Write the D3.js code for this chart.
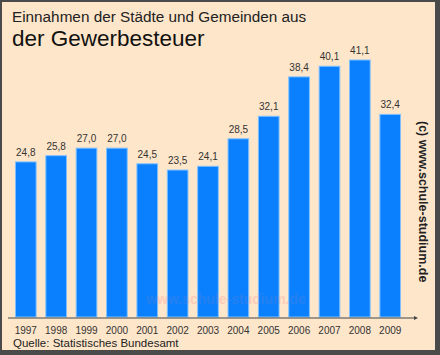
<!DOCTYPE html>
<html><head><meta charset="utf-8">
<script src="https://cdn.jsdelivr.net/npm/d3@7"></script>
<style>html,body{margin:0;padding:0;background:#fff}svg{display:block}</style>
</head><body>
<script>
const years = ["1997","1998","1999","2000","2001","2002","2003","2004","2005","2006","2007","2008","2009"];
const values = [24.8,25.8,27.0,27.0,24.5,23.5,24.1,28.5,32.1,38.4,40.1,41.1,32.4];
const valueLabels = ["24,8","25,8","27,0","27,0","24,5","23,5","24,1","28,5","32,1","38,4","40,1","41,1","32,4"];
const titleLine1 = "Einnahmen der Städte und Gemeinden aus";
const titleLine2 = "der Gewerbesteuer";
const sourceText = "Quelle: Statistisches Bundesamt";
const copyrightText = "(c) www.schule-studium.de";

const W = 440, H = 355;
const svg = d3.select("body").append("svg").attr("width", W).attr("height", H);
svg.append("rect").attr("width", W).attr("height", H).attr("fill", "#4a4a4a");
svg.append("rect").attr("x", 2).attr("y", 2).attr("width", W - 7).attr("height", H - 7).attr("fill", "#fee6ca");

const font = "Liberation Sans, Arial, sans-serif";
svg.append("text").attr("x", 12).attr("y", 22).attr("font-family", font).attr("font-size", 15.3).attr("fill", "#222").text(titleLine1);
svg.append("text").attr("x", 12).attr("y", 46).attr("font-family", font).attr("font-size", 22.5).attr("fill", "#111").text(titleLine2);

const x = d3.scaleBand().domain(years).range([10, 406]).paddingInner(0.32).paddingOuter(0.18);
const y = d3.scaleLinear().domain([0, 41.1]).range([317, 60]);

svg.append("text").attr("x", 226).attr("y", 304).attr("text-anchor", "middle")
  .attr("font-family", font).attr("font-weight", "bold").attr("font-size", 14)
  .attr("fill", "#ff9a9a").attr("opacity", 0.2).text("www.schule-studium.de");

svg.selectAll("rect.bar").data(values).join("rect").attr("class", "bar")
  .attr("x", (d, i) => x(years[i])).attr("width", x.bandwidth())
  .attr("y", d => y(d)).attr("height", d => y(0) - y(d))
  .attr("fill", "#0a80fe").attr("stroke", "#7ec0ff").attr("stroke-width", 1);

svg.append("text").attr("x", 226).attr("y", 304).attr("text-anchor", "middle")
  .attr("font-family", font).attr("font-weight", "bold").attr("font-size", 14)
  .attr("fill", "#ff8080").attr("opacity", 0.1).text("www.schule-studium.de");

svg.selectAll("text.val").data(values).join("text").attr("class", "val")
  .attr("x", (d, i) => x(years[i]) + x.bandwidth() / 2).attr("y", d => y(d) - 6)
  .attr("text-anchor", "middle").attr("font-family", font).attr("font-size", 10)
  .attr("fill", "#333").text((d, i) => valueLabels[i]);

const axis = d3.axisBottom(x).tickSize(0).tickPadding(9);
const g = svg.append("g").attr("transform", `translate(0,${y(0) + 1})`).call(axis);
g.select(".domain").remove();
g.selectAll("text").attr("font-family", font).attr("font-size", 10).attr("fill", "#333");
svg.append("line").attr("x1", 8).attr("x2", 414).attr("y1", y(0) + 1).attr("y2", y(0) + 1)
  .attr("stroke", "#444").attr("stroke-width", 1);
svg.append("path").attr("d", `M414,${y(0) - 1} L418,${y(0) + 1} L414,${y(0) + 3} Z`).attr("fill", "#444");

svg.append("text").attr("x", 13).attr("y", 347).attr("font-family", font).attr("font-size", 11.5).attr("fill", "#222").text(sourceText);

svg.append("text").attr("transform", "translate(419,121) rotate(90)")
  .attr("font-family", font).attr("font-weight", "bold").attr("font-size", 12.5).attr("fill", "#222")
  .text(copyrightText);
</script>
</body></html>
